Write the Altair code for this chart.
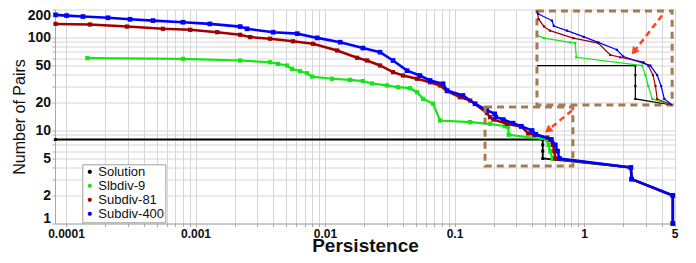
import math
import altair as alt
import pandas as pd

# ---------------- data ----------------
series_names = ["Solution", "Slbdiv-9", "Subdiv-81", "Subdiv-400"]
series_colors = ["#000000", "#14e614", "#a00000", "#0000ff"]

sol_p = [8.3e-5, 0.48, 0.48, 0.48, 0.48, 2.3, 2.33, 4.85, 4.85]
sol_n = [8, 8, 7, 6, 5, 4, 3, 2, 1]

green_p = [1.46e-4, 8.0e-4, 2.21e-3, 3.76e-3, 4.33e-3, 5.09e-3, 5.56e-3, 6.41e-3,
           7.26e-3, 7.94e-3, 0.0113, 0.0156, 0.0196, 0.0231, 0.0301, 0.0366,
           0.0453, 0.0513, 0.0571, 0.0682, 0.0773, 0.132, 0.188, 0.246, 0.259,
           0.262, 0.515, 0.532, 0.548, 0.571, 2.3, 2.33, 4.85, 4.85]
green_n = [60, 59, 56.6, 54.2, 52, 50, 46, 43.4,
           41.3, 38, 36, 35, 34, 32, 30.5, 29.2,
           28.5, 25.8, 21.9, 19.4, 12.8, 12.3, 11.8, 11.1, 11,
           9, 8, 7, 6, 5, 4, 3, 2, 1]

red_p = [8.3e-5, 1.53e-4, 2.96e-4, 5.6e-4, 9.1e-4, 1.47e-3, 2.21e-3, 2.64e-3,
         3.76e-3, 5.66e-3, 8.07e-3, 0.0124, 0.0177, 0.0211, 0.0266, 0.0335,
         0.040, 0.0513, 0.0647, 0.0773, 0.0875, 0.110, 0.132, 0.178, 0.188,
         0.200, 0.254, 0.328, 0.371, 0.411, 0.521, 0.548, 0.575, 0.59, 0.60,
         2.3, 2.33, 4.85, 4.85]
red_n = [140, 138, 131, 124, 121, 114, 107, 101,
         97, 91, 85.5, 72.5, 60.5, 56.6, 50, 42.4,
         39, 36, 33, 30.5, 26.5, 22.8, 21, 15.4, 13.9,
         13.1, 11.8, 11, 9.3, 9, 8.4, 8, 7, 6, 5,
         4, 3, 2, 1]

blue_p = [8.3e-5, 1.01e-4, 1.35e-4, 2.11e-4, 3.12e-4, 4.7e-4, 8.0e-4, 1.29e-3,
          2.21e-3, 2.5e-3, 3.98e-3, 6.1e-3, 8.7e-3, 0.0131, 0.0196, 0.0266,
          0.0335, 0.043, 0.054, 0.0647, 0.0815, 0.0875, 0.116, 0.144, 0.177,
          0.204, 0.208, 0.238, 0.283, 0.328, 0.397, 0.424, 0.56, 0.60, 0.625,
          0.646, 2.3, 2.33, 4.85, 4.85]
blue_n = [175, 172, 168, 163, 157, 152, 146, 140,
          131, 124, 114, 110, 99, 89, 77, 69.5,
          56.6, 44, 39, 34.5, 31.8, 26.9, 23.8, 19.4, 16.6,
          15.1, 14, 13.1, 12, 11.1, 10, 9.1, 8, 7, 6,
          5, 4, 3, 2, 1]

x_label_vals = [0.0001, 0.001, 0.01, 0.1, 1, 5]
x_label_text = ["0.0001", "0.001", "0.01", "0.1", "1", "5"]
y_label_vals = [1, 2, 5, 10, 20, 50, 100, 200]
y_label_text = ["1", "2", "5", "10", "20", "50", "100", "200"]

# zoom boxes / arrows (data coordinates)
zoom_box_x = [0.172, 0.82]
zoom_box_y = [4.15, 17.9]
inset_box_x = [0.433, 4.79]
inset_box_y = [18.8, 193]
arrow1_p = [4.0, 2.43]
arrow1_n = [172.5, 70.7]
arrow2_p = [0.807, 0.527]
arrow2_n = [16.4, 10.1]
arrow_angles = [218, 232]

# region of the data shown magnified inside the inset box
inset_x_domain = [0.175, 0.70]
inset_y_domain = [4.59, 17.3]

# ---------------- tables ----------------
rows = []
idx = 0
for name, ps, ns in [("Solution", sol_p, sol_n), ("Slbdiv-9", green_p, green_n),
                     ("Subdiv-81", red_p, red_n), ("Subdiv-400", blue_p, blue_n)]:
    for p, n in zip(ps, ns):
        rows.append({"series": name, "p": p, "n": n, "idx": idx})
        idx += 1
df = pd.DataFrame(rows)

boxes = pd.DataFrame({"x1": [zoom_box_x[0], inset_box_x[0]], "x2": [zoom_box_x[1], inset_box_x[1]],
                      "y1": [zoom_box_y[0], inset_box_y[0]], "y2": [zoom_box_y[1], inset_box_y[1]]})
arrows = pd.DataFrame({"a": [0, 0, 1, 1], "p": arrow1_p + arrow2_p, "n": arrow1_n + arrow2_n,
                       "k": [0, 1, 0, 1]})
heads = pd.DataFrame({"p": [arrow1_p[1], arrow2_p[1]], "n": [arrow1_n[1], arrow2_n[1]],
                      "ang": arrow_angles})

grid_x = sorted({round(m * 10.0 ** k, 12) for k in range(-4, 0) for m in range(1, 10)} | {1, 2, 3, 4, 5})
grid_y = sorted({round(m * 10.0 ** k, 12) for k in range(0, 2) for m in range(1, 10)} | {100, 200})


def label_expr(vals, texts):
    e = "''"
    for v, t in reversed(list(zip(vals, texts))):
        e = f"abs(datum.value - {v}) < {v}*1e-6 ? '{t}' : " + e
    return e


def inset_map(field, dom, box):
    a0, a1 = math.log10(dom[0]), math.log10(dom[1])
    b0, b1 = math.log10(box[0]), math.log10(box[1])
    k = (b1 - b0) / (a1 - a0)
    return (f"pow(10, {b0} + (clamp(log(datum.{field})/LN10, {a0}, {a1}) - ({a0})) * {k})")


FONT = "Liberation Sans"
x_scale = alt.Scale(type="log", domain=[8.22e-5, 5.04], nice=False)
y_scale = alt.Scale(type="log", domain=[1, 200], nice=False)
color_scale = alt.Scale(domain=series_names, range=series_colors)

x_axis = alt.Axis(values=grid_x, labelExpr=label_expr(x_label_vals, x_label_text),
                  grid=True, gridColor="#d6d6d6", gridWidth=1, domainColor="#a8a8a8",
                  tickSize=3, tickColor="#a8a8a8", labelFont=FONT, labelFontSize=12,
                  labelFontWeight="bold", labelColor="#111111", labelOverlap=False,
                  labelFlush=False, labelPadding=2, title="Persistence", titleFont=FONT,
                  titleFontSize=19, titleFontWeight="bold", titleColor="#111111",
                  titleBaseline="alphabetic", titleY=27.5)
y_axis = alt.Axis(values=grid_y, labelExpr=label_expr(y_label_vals, y_label_text),
                  grid=True, gridColor="#d6d6d6", gridWidth=1, domainColor="#a8a8a8",
                  tickSize=3, tickColor="#a8a8a8", labelFont=FONT, labelFontSize=14,
                  labelFontWeight="bold", labelColor="#111111", labelOverlap=False,
                  labelFlush=True, labelFlushOffset=1.5, labelPadding=1.5,
                  title="Number of Pairs", titleFont=FONT,
                  titleFontSize=16, titleFontWeight="normal", titleColor="#111111", titlePadding=0)
legend = alt.Legend(title=None, orient="none", legendX=27.3, legendY=154.8,
                    symbolType="circle", symbolSize=18, symbolStrokeWidth=0,
                    labelFont=FONT, labelFontSize=13, labelColor="#111111",
                    labelOffset=2, padding=1, rowPadding=0,
                    strokeColor="#a0a0a0", fillColor="#ffffff")

X = alt.X("p:Q", scale=x_scale, axis=x_axis)
Y = alt.Y("n:Q", scale=y_scale, axis=y_axis)
C = alt.Color("series:N", scale=color_scale, legend=legend)

base = alt.Chart(df)

styles = {
    "Solution": dict(lw=1.8, ms=9),
    "Slbdiv-9": dict(lw=2.2, ms=18),
    "Subdiv-81": dict(lw=2.5, ms=18),
    "Subdiv-400": dict(lw=2.6, ms=22),
}

layers = []
for i, name in enumerate(series_names):
    st = styles[name]
    sub = base.transform_filter(alt.datum.series == name)
    line = sub.mark_line(strokeWidth=st["lw"]).encode(x=X, y=Y, color=C, order=alt.Order("idx:Q"))
    pts = sub.mark_point(shape="square", filled=True, size=st["ms"], opacity=1).encode(
        x=X, y=Y, color=C)
    if i == 0:
        layers += [pts, line]
    else:
        layers += [line, pts]

XB = alt.X("x1:Q", scale=x_scale, axis=x_axis)
YB = alt.Y("y1:Q", scale=y_scale, axis=y_axis)
box_layer = alt.Chart(boxes).mark_rect(fillOpacity=0, stroke="#a57c52", strokeWidth=3,
                                       strokeDash=[7, 5]).encode(x=XB, x2="x2:Q", y=YB, y2="y2:Q")

arrow_layer = alt.Chart(arrows).mark_line(color="#ff4422", strokeWidth=2.5,
                                          strokeDash=[6, 4]).encode(
    x=X, y=Y, detail="a:N", order="k:Q")

head_layer = alt.Chart(heads).mark_point(shape="triangle-up", filled=True, color="#ff4422",
                                         size=75, opacity=1).encode(
    x=X, y=Y, angle=alt.Angle("ang:Q", scale=None))

# ---------------- inset (magnified copy drawn inside the inset box) ----------------
XI = alt.X("pi:Q", scale=x_scale, axis=x_axis)
YI = alt.Y("ni:Q", scale=y_scale, axis=y_axis)
inset_layers = []
for name in series_names:
    sub = base.transform_filter(alt.datum.series == name).transform_calculate(
        pi=inset_map("p", inset_x_domain, inset_box_x),
        ni=inset_map("n", inset_y_domain, inset_box_y))
    inset_layers.append(sub.transform_filter(
        (alt.datum.p >= 0.13) | (alt.datum.series == "Solution")
    ).mark_line(strokeWidth=1.2).encode(x=XI, y=YI, color=C, order=alt.Order("idx:Q")))
    inset_layers.append(sub.transform_filter(
        (alt.datum.p >= inset_x_domain[0]) & (alt.datum.p <= inset_x_domain[1]) &
        (alt.datum.n >= inset_y_domain[0]) & (alt.datum.n <= inset_y_domain[1])
    ).mark_point(shape="square", filled=True, size=5, opacity=1).encode(x=XI, y=YI, color=C))

chart = alt.layer(*layers, box_layer, arrow_layer, head_layer, *inset_layers).properties(
    width=620, height=214,
    autosize=alt.AutoSizeParams(type="none"),
    padding={"left": 47, "top": 1.5, "right": 13, "bottom": 31},
    background="white",
).configure_view(stroke=None)

chart.save("out.html", embed_options={"renderer": "svg", "actions": False})
